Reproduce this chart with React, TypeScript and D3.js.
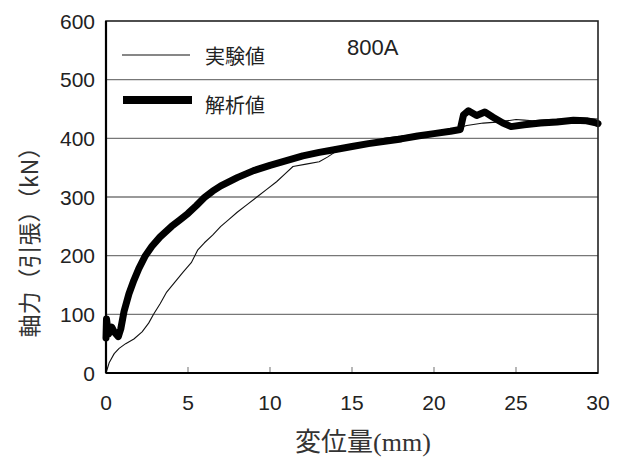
import React from "react";
import * as d3 from "d3";

const xTicks = [0, 5, 10, 15, 20, 25, 30];
const yTicks = [0, 100, 200, 300, 400, 500, 600];

const expX = [0, 0.2, 0.5, 0.8, 1.2, 1.7, 2.2, 2.6, 2.9, 3.3, 3.7, 4.2, 4.7, 5.2, 5.6, 6.0, 6.5, 7.0, 7.5, 8.0, 8.6, 9.2, 9.8, 10.4, 10.9, 11.4, 12.2, 13.0, 13.5, 14.1, 15, 16, 17, 18, 19, 20, 21, 22, 23, 24, 25, 25.5, 26, 27, 28, 29, 30];
const expY = [0, 18, 33, 42, 50, 58, 70, 85, 100, 118, 138, 155, 172, 188, 210, 222, 235, 250, 262, 274, 287, 300, 313, 326, 339, 352, 356, 360, 368, 379, 386, 392, 400, 404, 407, 410, 414, 422, 426, 428, 432, 431, 430, 432, 433, 434, 433];

const anaX = [0, 0.03, 0.15, 0.35, 0.5, 0.75, 0.9, 1.1, 1.4, 1.7, 2.0, 2.4, 2.8, 3.3, 4, 4.5, 5, 5.5, 6, 6.5, 7, 8, 9, 10, 11, 12, 13, 14, 15, 16, 17, 18, 19, 20, 21, 21.6, 21.8, 22.1, 22.6, 23.1, 23.6, 24.2, 24.7, 25.5, 26.5, 27.5, 28.5, 29.3, 29.8, 30];
const anaY = [60, 92, 66, 78, 70, 62, 75, 105, 135, 158, 178, 200, 216, 232, 250, 261, 272, 285, 299, 310, 319, 333, 345, 354, 362, 370, 376, 381, 386, 391, 395, 399, 404, 408, 412, 415, 440, 447, 439, 445, 436, 426, 420, 423, 426, 428, 431, 430, 427, 425];

const seriesNames = ["実験値", "解析値"];
const chartTag = "800A";
const xTitle = "変位量(mm)";
const yTitle = "軸力（引張）（kN）";

export default function App() {
  const W = 622, H = 459;
  const L = 106, R = 598, T = 21, B = 373;
  const x = d3.scaleLinear().domain([0, 30]).range([L, R]);
  const y = d3.scaleLinear().domain([0, 600]).range([B, T]);
  const line = d3.line<[number, number]>().x(d => x(d[0])).y(d => y(d[1]));
  const expPts = expX.map((v, i) => [v, expY[i]] as [number, number]);
  const anaPts = anaX.map((v, i) => [v, anaY[i]] as [number, number]);
  const sans = "'Liberation Sans', Arial, sans-serif";
  const jp = "'Noto Sans CJK JP', sans-serif";

  return (
    <svg width={W} height={H} style={{ position: "absolute", left: 0, top: 0, background: "#fff" }}>
      <rect x={0} y={0} width={W} height={H} fill="#fff" />
      {yTicks.filter(t => t > 0 && t < 600).map(t => (
        <line key={t} x1={L} x2={R} y1={y(t)} y2={y(t)} stroke="#777" strokeWidth={1.3} />
      ))}
      {xTicks.filter(t => t > 0 && t < 30).map(t => (
        <line key={t} x1={x(t)} x2={x(t)} y1={B} y2={B - 6} stroke="#888" strokeWidth={1.2} />
      ))}
      <path d={line(expPts) || ""} fill="none" stroke="#111" strokeWidth={1.1} strokeLinejoin="round" />
      <path d={line(anaPts) || ""} fill="none" stroke="#000" strokeWidth={7} strokeLinejoin="round" strokeLinecap="round" />
      <rect x={L} y={T} width={R - L} height={B - T} fill="none" stroke="#222" strokeWidth={1.6} />
      <line x1={L} x2={L} y1={T} y2={B} stroke="#000" strokeWidth={2.2} />
      <line x1={L} x2={R} y1={B} y2={B} stroke="#000" strokeWidth={2.2} />
      {yTicks.map(t => (
        <text key={t} x={95} y={y(t)} dy="0.36em" textAnchor="end" fontFamily={sans} fontSize={21} fill="#222">{t}</text>
      ))}
      {xTicks.map(t => (
        <text key={t} x={x(t)} y={410} textAnchor="middle" fontFamily={sans} fontSize={21} fill="#222">{t}</text>
      ))}
      <line x1={122} x2={190} y1={55} y2={55} stroke="#111" strokeWidth={1.2} />
      <text x={205} y={56.5} dy="0.36em" fontFamily={jp} fontSize={20} fill="#222">{seriesNames[0]}</text>
      <line x1={123} x2={192} y1={100} y2={100} stroke="#000" strokeWidth={8} />
      <text x={205} y={106} dy="0.36em" fontFamily={jp} fontSize={20} fill="#222">{seriesNames[1]}</text>
      <text x={347} y={55} fontFamily={sans} fontSize={22} fill="#222">{chartTag}</text>
      <text x={363} y={451} textAnchor="middle" fontFamily={"'Liberation Serif', 'Noto Sans CJK JP', serif"} fontSize={26} fill="#333">{xTitle}</text>
      <text transform={`translate(38, 236.5) rotate(-90)`} textAnchor="middle" fontFamily={jp} fontSize={23} fill="#333">{yTitle}</text>
    </svg>
  );
}
